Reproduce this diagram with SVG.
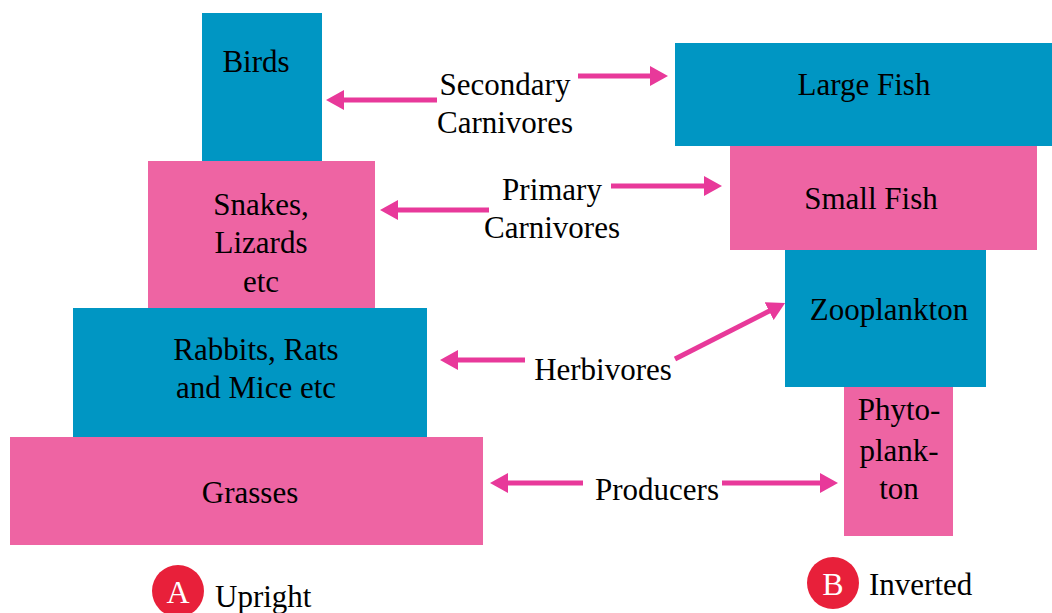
<svg xmlns="http://www.w3.org/2000/svg" width="1052" height="613" viewBox="0 0 1052 613">
<style>
.b{fill:#0096C3}
.p{fill:#EE64A3}
.c{text-anchor:middle}
.ar{stroke:#E8399A;stroke-width:5;fill:none;marker-end:url(#ah)}
.lt{font-size:32px;fill:#fff}
.t{font-family:'Liberation Serif','Tinos','Times New Roman','Times','Nimbus Roman','Nimbus Roman No9 L','FreeSerif','Noto Serif','DejaVu Serif',serif;font-size:31px;fill:#000}
</style>
<defs>
<marker id="ah" markerWidth="18" markerHeight="20" refX="10" refY="10" orient="auto" markerUnits="userSpaceOnUse" viewBox="0 0 18 20">
<path d="M0,0 L18,10 L0,20 z" fill="#E8399A"/>
</marker>
</defs>
<rect width="1052" height="613" fill="#fff"/>
<g class="t">
<g id="birds"><rect class="b" x="202" y="13" width="120" height="148"/><text class="c" x="256" y="72">Birds</text></g>
<g id="snakes"><rect class="p" x="148" y="161" width="227" height="147"/><text class="c" x="261" y="215">Snakes,</text><text class="c" x="261" y="253">Lizards</text><text class="c" x="261" y="292">etc</text></g>
<g id="rabbits"><rect class="b" x="73" y="308" width="354" height="129"/><text class="c" x="256" y="360">Rabbits, Rats</text><text class="c" x="256" y="398">and Mice etc</text></g>
<g id="grasses"><rect class="p" x="10" y="437" width="473" height="108"/><text class="c" x="250" y="503">Grasses</text></g>
<g id="largefish"><rect class="b" x="675" y="43" width="377" height="103"/><text class="c" x="864" y="95">Large Fish</text></g>
<g id="smallfish"><rect class="p" x="730" y="146" width="307" height="104"/><text class="c" x="871" y="209">Small Fish</text></g>
<g id="zooplankton"><rect class="b" x="785" y="250" width="201" height="137"/><text class="c" x="889" y="320">Zooplankton</text></g>
<g id="phytoplankton"><rect class="p" x="844" y="387" width="109" height="149"/><text class="c" x="899" y="420">Phyto-</text><text class="c" x="899" y="461">plank-</text><text class="c" x="899" y="499">ton</text></g>
<g id="labels">
<text class="c" x="505" y="95">Secondary</text><text class="c" x="505" y="133">Carnivores</text>
<text class="c" x="552" y="200">Primary</text><text class="c" x="552" y="238">Carnivores</text>
<text class="c" x="603" y="380">Herbivores</text>
<text class="c" x="657" y="500">Producers</text>
</g>
<g id="connectors">
<line class="ar" x1="437" y1="100" x2="334" y2="100"/>
<line class="ar" x1="578" y1="76" x2="660" y2="76"/>
<line class="ar" x1="489" y1="210" x2="388" y2="210"/>
<line class="ar" x1="611" y1="186" x2="714" y2="186"/>
<line class="ar" x1="525" y1="360" x2="448" y2="360"/>
<line class="ar" x1="675" y1="359" x2="778" y2="306.6"/>
<line class="ar" x1="583" y1="483" x2="498" y2="483"/>
<line class="ar" x1="722" y1="483" x2="830" y2="483"/>
</g>
<g id="legendA"><circle cx="178" cy="591" r="26" fill="#E8203A"/><text class="c lt" x="178" y="603">A</text><text x="215" y="607">Upright</text></g>
<g id="legendB"><circle cx="833" cy="583" r="26" fill="#E8203A"/><text class="c lt" x="833" y="595">B</text><text x="869" y="595">Inverted</text></g>
</g>
</svg>
